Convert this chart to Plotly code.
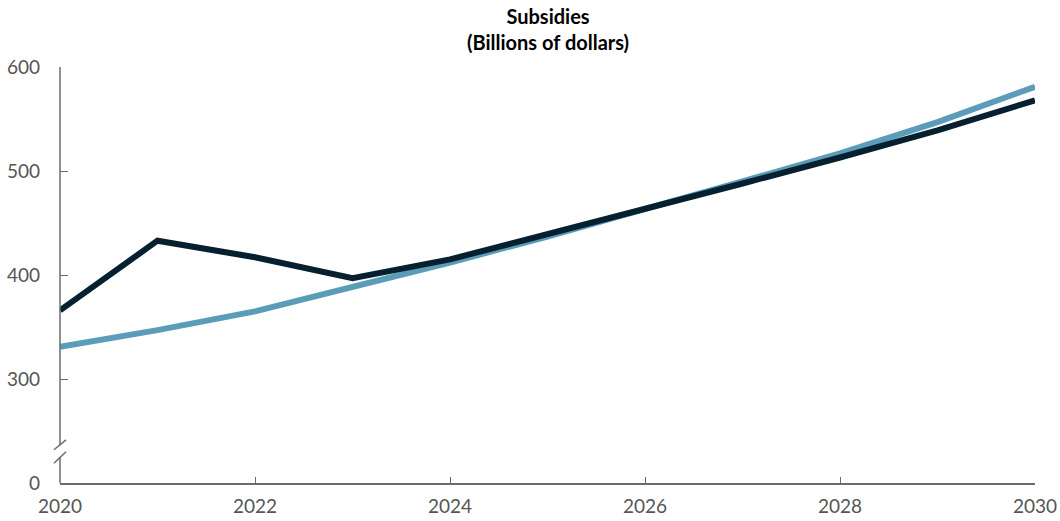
import plotly.graph_objects as go

years = [2020, 2021, 2022, 2023, 2024, 2025, 2026, 2027, 2028, 2029, 2030]
dark_values = [366, 433, 417, 397, 415, 439, 464, 488, 513, 539, 568]
light_values = [331, 347, 365, 388, 412, 437, 463, 490, 517, 547, 581]

y_tick_vals = [200, 300, 400, 500, 600]
y_tick_text = ["0", "300", "400", "500", "600"]
x_tick_vals = [2020, 2022, 2024, 2026, 2028, 2030]
x_tick_text = ["2020", "2022", "2024", "2026", "2028", "2030"]

title_text = "<b>Subsidies<br>(Billions of dollars)</b>"

DARK = "#06202f"
LIGHT = "#5b9db8"
AXIS = "#6b6b6b"
FONT = "Lato"

fig = go.Figure()
fig.add_trace(go.Scatter(x=years, y=light_values, mode="lines",
                         line=dict(color=LIGHT, width=6), cliponaxis=False,
                         showlegend=False))
fig.add_trace(go.Scatter(x=years, y=dark_values, mode="lines",
                         line=dict(color=DARK, width=6), cliponaxis=False,
                         showlegend=False))

fig.update_layout(
    width=1060, height=521,
    margin=dict(l=60, r=25, t=67, b=38, autoexpand=False),
    plot_bgcolor="white", paper_bgcolor="white",
    font=dict(family=FONT, size=19, color="#555555"),
    xaxis=dict(range=[2020, 2030], tickvals=x_tick_vals, ticktext=x_tick_text,
               showline=True, linecolor=AXIS, linewidth=1.5,
               ticks="inside", ticklen=6, tickcolor=AXIS, tickwidth=1,
               showgrid=False, zeroline=False, ticklabelstandoff=5,
               automargin=False),
    yaxis=dict(range=[200, 600], tickvals=y_tick_vals, ticktext=y_tick_text,
               showline=False, ticks="inside", ticklen=8, tickcolor=AXIS,
               tickwidth=1, showgrid=False, zeroline=False,
               ticklabelstandoff=19, automargin=False),
)

fig.add_annotation(text=title_text, xref="paper", yref="paper", x=0.5, y=1,
                   xanchor="center", yanchor="bottom", yshift=11,
                   showarrow=False,
                   font=dict(family=FONT, size=20, color="#000000"))

# broken y axis line
fig.add_shape(type="line", xref="paper", yref="y", x0=0, x1=0, y0=200, y1=225,
              line=dict(color=AXIS, width=1.5))
fig.add_shape(type="line", xref="paper", yref="y", x0=0, x1=0, y0=236, y1=600,
              line=dict(color=AXIS, width=1.5))
# break slashes
for y0, y1 in [(232, 241.5), (219, 230)]:
    fig.add_shape(type="line", xref="paper", yref="y", x0=-0.0062, x1=0.0062,
                  y0=y0, y1=y1, line=dict(color=AXIS, width=1.5))

fig.write_html("out.html", config={"displayModeBar": False},
               post_script="document.body.style.margin='0';document.body.style.overflow='hidden';")
